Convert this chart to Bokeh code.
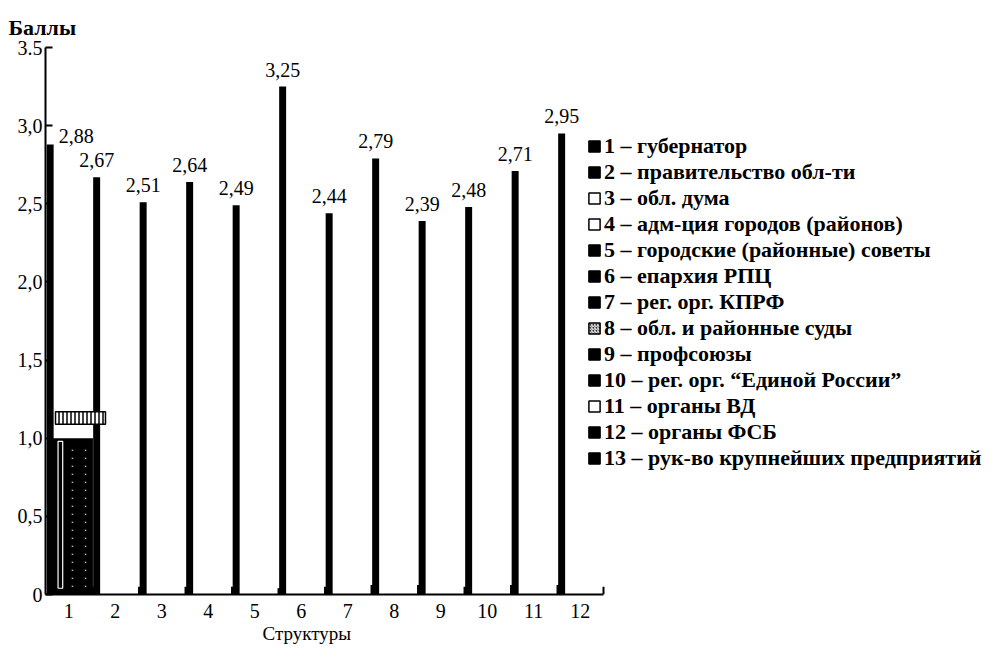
from bokeh.plotting import figure
from bokeh.models import (Range1d, FixedTicker, CustomJSTickFormatter, Legend,
                          LegendItem, Title)
from bokeh.core.properties import value
from bokeh.embed import file_html
from bokeh.resources import INLINE

# ---------------- data ----------------
categories = [1, 2, 3, 4, 5, 6, 7, 8, 9, 10, 11, 12]
scores = [2.88, 2.67, 2.51, 2.64, 2.49, 3.25, 2.44, 2.79, 2.39, 2.48, 2.71, 2.95]
score_labels = ["2,88", "2,67", "2,51", "2,64", "2,49", "3,25",
                "2,44", "2,79", "2,39", "2,48", "2,71", "2,95"]
base_stubs = [0.0, 0.05, 0.05, 0.05, 0.05, 0.04, 0.05, 0.06, 0.06, 0.05, 0.06, 0.06]
group1_block = [1.0]
group1_inner = [0.98]
group1_box_bottom = [1.09]
group1_box_top = [1.17]
y_ticks = [0, 0.5, 1.0, 1.5, 2.0, 2.5, 3.0, 3.5]
y_tick_labels = ["0", "0,5", "1,0", "1,5", "2,0", "2,5", "3,0", "3.5"]
legend_labels = [
    "1 – губернатор",
    "2 – правительство обл-ти",
    "3 – обл. дума",
    "4 – адм-ция городов (районов)",
    "5 – городские (районные) советы",
    "6 – епархия РПЦ",
    "7 – рег. орг. КПРФ",
    "8 – обл. и районные суды",
    "9 – профсоюзы",
    "10 – рег. орг. “Единой России”",
    "11 – органы ВД",
    "12 – органы ФСБ",
    "13 – рук-во крупнейших предприятий",
]
legend_fill = ["black", "black", "white", "white", "black", "black", "black",
               "#333333", "black", "black", "white", "black", "black"]
legend_hatch = [None, None, None, None, None, None, None,
                "right_diagonal_line", None, None, None, None, None]

SERIF = "Liberation Serif"
NAN = float("nan")

# ---------------- layout constants ----------------
W, H = 992, 646
LEFT, TOP, BOTTOM = 45, 47, 52
PX_PER_CAT = 46.5
x_start = categories[0] - 0.5
x_stop = categories[-1] + 0.5
x_max = x_start + (W - LEFT) / PX_PER_CAT   # frame spans to the right edge (legend lives there)

p = figure(width=W, height=H,
           x_range=Range1d(x_start, x_max),
           y_range=Range1d(0, 3.5),
           output_backend="svg", toolbar_location=None,
           min_border_left=LEFT, min_border_right=0,
           min_border_top=TOP, min_border_bottom=BOTTOM)
p.xgrid.visible = False
p.ygrid.visible = False
p.outline_line_color = None
p.background_fill_color = "white"
p.border_fill_color = "white"

# y-axis title above the axis
p.title.text = "Баллы"
p.title.align = "left"
p.title.offset = -37
p.title.standoff = 15
p.title.text_font = SERIF
p.title.text_font_size = "22px"
p.title.text_font_style = "bold"
p.title.text_color = "black"

xa = p.xaxis[0]
xa.bounds = (x_start, x_stop)
xa.ticker = FixedTicker(ticks=categories)
xa.major_tick_in = 0
xa.major_tick_out = 0
xa.minor_tick_in = 0
xa.minor_tick_out = 0
xa.axis_line_width = 2
xa.axis_line_color = "black"
xa.major_label_text_font = SERIF
xa.major_label_text_font_size = "20px"
xa.major_label_text_color = "black"
xa.major_label_standoff = 9

ya = p.yaxis[0]
ya.ticker = FixedTicker(ticks=y_ticks)
ya.formatter = CustomJSTickFormatter(
    args=dict(vals=y_ticks, labels=y_tick_labels),
    code="""
for (let i = 0; i < vals.length; i++) {
  if (Math.abs(vals[i] - tick) < 1e-6) return labels[i];
}
return '';
""")
ya.major_tick_in = 7
ya.major_tick_out = 0
ya.minor_tick_in = 0
ya.minor_tick_out = 0
ya.major_tick_line_width = 2
ya.axis_line_width = 2
ya.axis_line_color = "black"
ya.major_label_text_font = SERIF
ya.major_label_text_font_size = "20px"
ya.major_label_text_color = "black"
ya.major_label_standoff = 3

# x-axis title
p.add_layout(Title(text="Структуры", align="left", offset=217, standoff=0,
                   text_font=SERIF, text_font_size="19px",
                   text_font_style="normal", text_color="black"), "below")

# small upward tick at the right end of the x axis
p.segment(x0=[x_stop], y0=[0], x1=[x_stop], y1=[0.05], line_color="black", line_width=2)

# ---------------- bars ----------------
bar_x = [c - 0.4 for c in categories]
stub_x = [c - 0.43 for c in categories]

# category-1 cluster block (drawn under the tall bars)
p.quad(left=[0.65], right=[1.52], bottom=[0], top=group1_block,
       fill_color="black", line_color=None)
p.quad(left=[0.77], right=[0.87], bottom=[0.04], top=group1_inner,
       fill_color="black", line_color="white", line_width=1.2)
p.segment(x0=[1.08, 1.36], y0=[0.05, 0.05], x1=[1.08, 1.36], y1=[0.95, 0.95],
          line_color="white", line_width=1.5, line_dash="1 7")

p.vbar(x=stub_x[1:], top=base_stubs[1:], width=0.16,
       fill_color="black", line_color=None)
p.vbar(x=bar_x, top=scores, width=0.15, fill_color="black", line_color=None)

# small hatched box above the cluster
p.quad(left=[0.715], right=[1.79], bottom=group1_box_bottom, top=group1_box_top,
       fill_color="white", line_color="black", line_width=1.5,
       hatch_pattern="vertical_line", hatch_color="black",
       hatch_scale=4, hatch_weight=1.5)

# ---------------- value labels ----------------
p.text(x=bar_x[1:], y=scores[1:], text=score_labels[1:],
       text_align="center", text_baseline="alphabetic", y_offset=-17,
       text_font=value(SERIF), text_font_size=value("20px"), text_color="black")
p.text(x=bar_x[:1], y=scores[:1], text=score_labels[:1],
       text_align="center", text_baseline="alphabetic", x_offset=26, y_offset=-8,
       text_font=value(SERIF), text_font_size=value("20px"), text_color="black")

# ---------------- legend ----------------
items = []
for lab, fc, hp in zip(legend_labels, legend_fill, legend_hatch):
    kw = dict(fill_color=fc, line_color="black", line_width=1.5)
    if hp:
        kw.update(hatch_pattern=hp, hatch_color="white", hatch_scale=3, hatch_weight=1)
    r = p.quad(left=[NAN], right=[NAN], top=[NAN], bottom=[NAN], **kw)
    items.append(LegendItem(label=lab, renderers=[r]))

legend = Legend(items=items, location=(542, 123), orientation="vertical",
                label_text_font=SERIF, label_text_font_style="bold",
                label_text_font_size="22px", label_text_color="black",
                glyph_width=14, glyph_height=14, label_standoff=3,
                spacing=0, padding=0, margin=0, label_height=20,
                border_line_color=None, background_fill_alpha=0)
p.add_layout(legend)

open("out.html", "w").write(file_html(p, INLINE))
